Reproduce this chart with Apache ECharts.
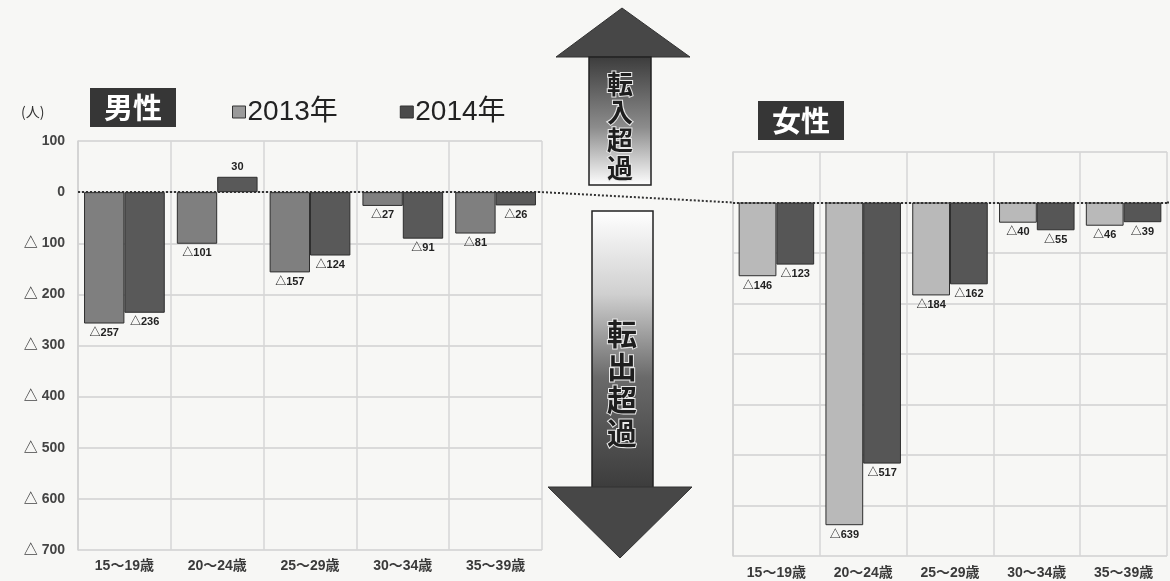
<!DOCTYPE html>
<html>
<head>
<meta charset="utf-8">
<script src="https://cdn.jsdelivr.net/npm/echarts@6/dist/echarts.min.js"></script>
<style>
  html, body { margin: 0; padding: 0; background: #f7f7f5; }
  #chart { width: 1170px; height: 581px; }
</style>
</head>
<body>
<div id="chart"></div>
<script>
// Age groups (shared by both panels)
const categories = ['15～19歳', '20～24歳', '25～29歳', '30～34歳', '35～39歳'];
// Net migration, persons (negative = net outflow)
const male2013 = [-257, -101, -157, -27, -81];
const male2014 = [-236, 30, -124, -91, -26];
const female2013 = [-146, -639, -184, -40, -46];
const female2014 = [-123, -517, -162, -55, -39];
const yTicks = { min: -700, max: 100, step: 100 };

const NUM_FONT = '"Liberation Sans", Arial, "Noto Sans CJK JP", sans-serif';
const JP_FONT = '"Noto Sans CJK JP", "Liberation Sans", sans-serif';

const fmtVal = v => (v < 0 ? '△' + (-v) : String(v));
const fmtAxis = v => (v < 0 ? '△ ' + (-v) : String(v));

function barSeries(name, data, xi, color) {
  return {
    name: name,
    type: 'bar',
    xAxisIndex: xi,
    yAxisIndex: xi,
    barGap: '0%',
    barCategoryGap: '13%',
    data: data.map(v => ({
      value: v,
      label: { position: v < 0 ? 'bottom' : 'top' }
    })),
    itemStyle: { color: color, borderColor: '#2e2e2e', borderWidth: 1 },
    label: {
      show: true,
      formatter: p => fmtVal(p.value),
      fontFamily: NUM_FONT,
      fontWeight: 'bold',
      fontSize: 11,
      color: '#222',
      distance: 4
    }
  };
}

function zeroLine() {
  return {
    silent: true,
    symbol: 'none',
    label: { show: false },
    lineStyle: { type: [2, 2], color: '#333', width: 2 },
    data: [{ yAxis: 0 }]
  };
}

function xAxis(gi, labelMargin) {
  return {
    type: 'category',
    gridIndex: gi,
    data: categories,
    axisLine: { show: false },
    axisTick: { show: false },
    axisLabel: {
      margin: labelMargin,
      fontFamily: NUM_FONT,
      fontSize: 14,
      fontWeight: 'bold',
      color: '#3a3a3a'
    },
    splitLine: { show: true, lineStyle: { color: '#d6d6d6', width: 1.5 } }
  };
}

function yAxis(gi, showLabels) {
  return {
    type: 'value',
    gridIndex: gi,
    min: yTicks.min,
    max: yTicks.max,
    interval: yTicks.step,
    axisLine: { show: true, lineStyle: { color: '#d0d0d0', width: 1.5 } },
    axisTick: { show: false },
    axisLabel: {
      show: showLabels,
      formatter: fmtAxis,
      margin: 13,
      fontFamily: NUM_FONT,
      fontWeight: 'bold',
      fontSize: 14,
      color: '#444'
    },
    splitLine: { show: true, lineStyle: { color: '#d0d0d0', width: 1.5 } }
  };
}

// Double-headed arrow pieces between the two panels
function arrowGraphics() {
  const upGrad = {
    type: 'linear', x: 0, y: 0, x2: 0, y2: 1,
    colorStops: [
      { offset: 0, color: '#3c3c3c' },
      { offset: 0.55, color: '#8c8c8c' },
      { offset: 1, color: '#ffffff' }
    ]
  };
  const downGrad = {
    type: 'linear', x: 0, y: 0, x2: 0, y2: 1,
    colorStops: [
      { offset: 0, color: '#ffffff' },
      { offset: 0.3, color: '#d0d0d0' },
      { offset: 0.6, color: '#6a6a6a' },
      { offset: 1, color: '#3c3c3c' }
    ]
  };
  const vText = (str, x, y0, step, size) => str.split('').map((ch, i) => ({
    type: 'text',
    z: 20,
    style: {
      x: x, y: y0 + i * step,
      text: ch,
      fill: '#1e1e1e',
      stroke: '#e8e8e8',
      lineWidth: 2,
      font: 'bold ' + size + 'px ' + JP_FONT,
      align: 'center',
      verticalAlign: 'middle'
    }
  }));
  return [
    { type: 'polygon', z: 10, shape: { points: [[622, 8], [556, 57], [690, 57]] },
      style: { fill: '#474747', stroke: '#333', lineWidth: 1 } },
    { type: 'rect', z: 10, shape: { x: 589, y: 57, width: 62, height: 128 },
      style: { fill: upGrad, stroke: '#222', lineWidth: 1.5 } },
    { type: 'rect', z: 10, shape: { x: 592, y: 211, width: 61, height: 277 },
      style: { fill: downGrad, stroke: '#222', lineWidth: 1.5 } },
    { type: 'polygon', z: 10, shape: { points: [[548, 487], [692, 487], [620, 558]] },
      style: { fill: '#474747', stroke: '#333', lineWidth: 1 } }
  ]
  .concat(vText('転入超過', 620, 84, 28, 26))
  .concat(vText('転出超過', 622, 334, 33, 30));
}

const chart = echarts.init(document.getElementById('chart'), null, { renderer: 'canvas' });

const titleBox = {
  backgroundColor: '#363636', padding: [5, 14, 5, 14],
  textStyle: { color: '#fff', fontSize: 29, fontWeight: 'bold', fontFamily: JP_FONT }
};

const option = {
  backgroundColor: '#f7f7f5',
  animation: false,
  title: [
    Object.assign({ text: '男性', left: 90, top: 88 }, titleBox),
    Object.assign({ text: '女性', left: 758, top: 101 }, titleBox),
    {
      text: '(人)', left: 16, top: 100,
      textStyle: { color: '#333', fontSize: 14, fontWeight: 'normal', fontFamily: JP_FONT }
    }
  ],
  legend: {
    left: 227, top: 93,
    itemGap: 62,
    itemWidth: 13, itemHeight: 12,
    icon: 'rect',
    data: [
      { name: '2013年', itemStyle: { color: '#9a9a9a', borderColor: '#333', borderWidth: 1 } },
      { name: '2014年', itemStyle: { color: '#4a4a4a', borderColor: '#333', borderWidth: 1 } }
    ],
    textStyle: { fontSize: 28, color: '#222', fontFamily: NUM_FONT, padding: [0, 0, 0, -3] }
  },
  grid: [
    { left: 78, top: 141, width: 464, height: 409 },
    { left: 733, top: 152, width: 434, height: 404 }
  ],
  xAxis: [xAxis(0, 9), xAxis(1, 10)],
  yAxis: [yAxis(0, true), yAxis(1, false)],
  series: [
    Object.assign(barSeries('2013年', male2013, 0, '#7f7f7f'), { markLine: zeroLine() }),
    barSeries('2014年', male2014, 0, '#595959'),
    Object.assign(barSeries('2013年', female2013, 1, '#b9b9b9'), { markLine: zeroLine() }),
    barSeries('2014年', female2014, 1, '#565656')
  ]
};

chart.setOption(option);

// Bridge the two zero lines through the gap between the panels
const leftEnd = chart.convertToPixel({ gridIndex: 0 }, [categories.length - 0.5, 0]);
const rightStart = chart.convertToPixel({ gridIndex: 1 }, [-0.5, 0]);
const gridR0 = 78 + 464;
const gridL1 = 733;
chart.setOption({
  graphic: [
    {
      type: 'line', z: 5, silent: true,
      shape: { x1: gridR0, y1: leftEnd[1], x2: gridL1, y2: rightStart[1] },
      style: { stroke: '#333', lineWidth: 2, lineDash: [2, 2] }
    },
    {
      type: 'line', z: 5, silent: true,
      shape: { x1: 1167, y1: rightStart[1], x2: 1170, y2: rightStart[1] },
      style: { stroke: '#333', lineWidth: 2, lineDash: [2, 2] }
    }
  ].concat(arrowGraphics())
});
</script>
</body>
</html>
